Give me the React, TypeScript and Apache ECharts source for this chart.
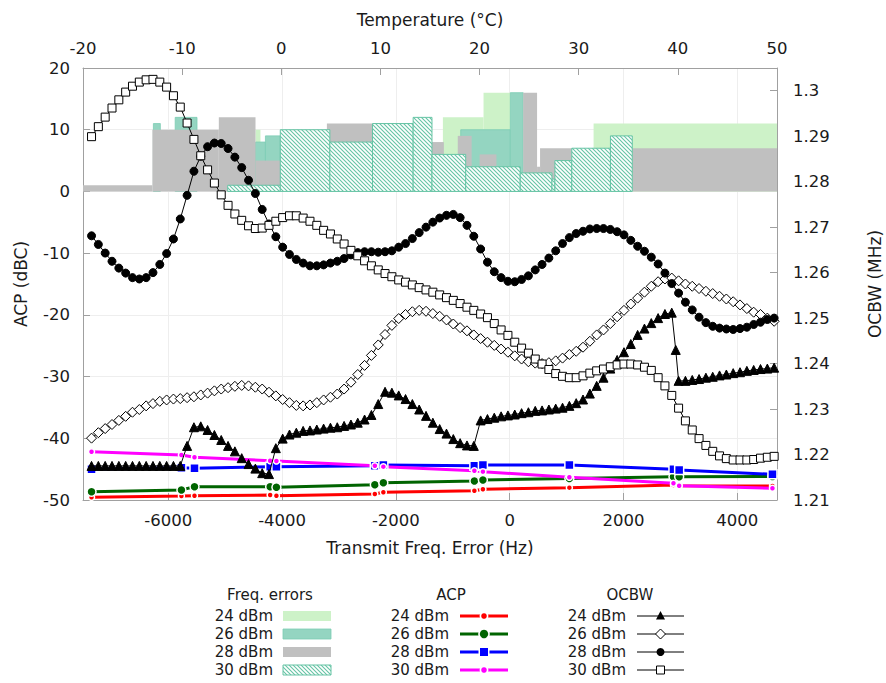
import React, { useEffect, useRef } from 'react';
import * as echarts from 'echarts';

// ---------------- data ----------------
const powerLabels = ['24 dBm', '26 dBm', '28 dBm', '30 dBm'];
const legendTitles = ['Freq. errors', 'ACP', 'OCBW'];

// Frequency-error histograms vs temperature: [tStart (°C), tEnd (°C), value]
const freqErr24 = [[-2.6, -2.1, 10], [16.3, 20.4, 12], [20.4, 23.1, 16], [31.5, 50, 11]];
const freqErr26 = [[-12.9, -12.2, 11], [-10.7, -8.5, 12], [-2.6, -1.6, 8], [-1.6, -0.1, 9], [18.1, 23.1, 10], [23.1, 24.4, 16]];
const freqErr28 = [[-20, -13, 1], [-13, -6.3, 10], [-6.3, -2.6, 12], [-2.6, -0.1, 5], [4.6, 9.2, 11], [15.2, 16.4, 8], [17.8, 19.2, 9], [20, 21.7, 6], [24.4, 25.8, 16], [25.8, 26.1, 4], [26.1, 29.3, 7], [35.4, 50, 7]];
const freqErr30 = [[-5.4, -0.1, 1], [-0.1, 4.9, 10], [4.9, 9.2, 8], [9.2, 13.3, 11], [13.3, 15.2, 12], [15.2, 18.6, 6], [18.6, 24.1, 4], [24.1, 27.3, 3], [27.3, 27.6, 2], [27.6, 29.3, 5], [29.3, 33.2, 7], [33.2, 35.4, 9]];

// ACP (dBc) vs transmit frequency error (Hz)
const acpFreq = [-7350, -5770, -5540, -4210, -4100, -2370, -2220, -620, -470, 1050, 2880, 2980, 4620];
const acp24 = [-49.56, -49.35, -49.3, -49.19, -49.3, -49.03, -48.75, -48.49, -48.27, -48.0, -47.57, -47.68, -47.73];
const acp26 = [-48.65, -48.38, -47.84, -47.84, -47.94, -47.52, -47.2, -46.92, -46.76, -46.52, -46.22, -46.22, -46.19];
const acp28 = [-45.02, -44.77, -44.86, -44.6, -44.6, -44.44, -44.33, -44.44, -44.33, -44.33, -45.02, -45.14, -45.83];
const acp30 = [-42.17, -42.71, -43.08, -43.63, -43.68, -44.44, -44.6, -45.25, -45.41, -46.32, -47.29, -47.68, -48.1];

// OCBW (MHz) vs transmit frequency error (Hz)
const freqGrid = [
  -7350, -7230, -7110, -6990, -6870, -6750, -6630, -6510, -6390, -6270,
  -6150, -6030, -5910, -5790, -5670, -5550, -5430, -5310, -5190, -5070,
  -4950, -4830, -4710, -4590, -4470, -4350, -4230, -4110, -3990, -3870,
  -3750, -3630, -3510, -3390, -3270, -3150, -3030, -2910, -2790, -2670,
  -2550, -2430, -2310, -2190, -2070, -1950, -1830, -1710, -1590, -1470,
  -1350, -1230, -1110, -990, -870, -750, -630, -510, -390, -270,
  -150, -30, 90, 210, 330, 450, 570, 690, 810, 930,
  1050, 1170, 1290, 1410, 1530, 1650, 1770, 1890, 2010, 2130,
  2250, 2370, 2490, 2610, 2730, 2850, 2970, 3090, 3210, 3330,
  3450, 3570, 3690, 3810, 3930, 4050, 4170, 4290, 4410, 4530,
  4650,
];
const ocbw24 = [
  1.2175, 1.2175, 1.2175, 1.2175, 1.2175, 1.2175, 1.2175, 1.2175, 1.2175, 1.2175,
  1.2175, 1.2175, 1.2175, 1.2175, 1.2219, 1.2260, 1.2262, 1.2254, 1.2243, 1.2232,
  1.2219, 1.2207, 1.2192, 1.2179, 1.2169, 1.2159, 1.2157, 1.2214, 1.2235, 1.2244,
  1.2248, 1.2252, 1.2253, 1.2255, 1.2257, 1.2259, 1.2260, 1.2263, 1.2266, 1.2270,
  1.2277, 1.2287, 1.2311, 1.2338, 1.2336, 1.2330, 1.2322, 1.2311, 1.2299, 1.2285,
  1.2270, 1.2256, 1.2246, 1.2234, 1.2225, 1.2220, 1.2219, 1.2275, 1.2278, 1.2281,
  1.2284, 1.2286, 1.2288, 1.2291, 1.2293, 1.2296, 1.2297, 1.2299, 1.2301, 1.2303,
  1.2307, 1.2313, 1.2321, 1.2334, 1.2351, 1.2369, 1.2389, 1.2408, 1.2425, 1.2443,
  1.2463, 1.2477, 1.2489, 1.2500, 1.2509, 1.2512, 1.2362, 1.2362, 1.2364, 1.2366,
  1.2369, 1.2371, 1.2374, 1.2376, 1.2379, 1.2381, 1.2384, 1.2386, 1.2388, 1.2389,
  1.2391,
];
const ocbw24Extra = [2920, 1.2430];
const ocbw26 = [
  1.2236, 1.2248, 1.2257, 1.2266, 1.2275, 1.2284, 1.2293, 1.2299, 1.2307, 1.2312,
  1.2317, 1.2320, 1.2322, 1.2323, 1.2325, 1.2327, 1.2331, 1.2335, 1.2340, 1.2344,
  1.2347, 1.2350, 1.2352, 1.2351, 1.2348, 1.2344, 1.2337, 1.2329, 1.2321, 1.2314,
  1.2308, 1.2307, 1.2309, 1.2314, 1.2320, 1.2326, 1.2333, 1.2344, 1.2359, 1.2376,
  1.2396, 1.2418, 1.2441, 1.2464, 1.2484, 1.2499, 1.2508, 1.2514, 1.2517, 1.2515,
  1.2510, 1.2504, 1.2496, 1.2487, 1.2479, 1.2472, 1.2463, 1.2455, 1.2447, 1.2440,
  1.2432, 1.2425, 1.2417, 1.2410, 1.2404, 1.2401, 1.2400, 1.2402, 1.2406, 1.2412,
  1.2420, 1.2427, 1.2436, 1.2449, 1.2463, 1.2474, 1.2488, 1.2503, 1.2517, 1.2531,
  1.2544, 1.2557, 1.2570, 1.2580, 1.2586, 1.2588, 1.2582, 1.2575, 1.2570, 1.2565,
  1.2559, 1.2554, 1.2548, 1.2542, 1.2536, 1.2529, 1.2521, 1.2513, 1.2508, 1.2500,
  1.2493,
];
const ocbw28 = [
  1.2681, 1.2662, 1.2643, 1.2625, 1.2610, 1.2599, 1.2589, 1.2586, 1.2589, 1.2600,
  1.2618, 1.2642, 1.2674, 1.2718, 1.2770, 1.2823, 1.2856, 1.2877, 1.2885, 1.2884,
  1.2873, 1.2854, 1.2831, 1.2803, 1.2774, 1.2739, 1.2707, 1.2679, 1.2656, 1.2640,
  1.2629, 1.2621, 1.2615, 1.2615, 1.2617, 1.2621, 1.2625, 1.2631, 1.2639, 1.2644,
  1.2646, 1.2646, 1.2645, 1.2646, 1.2648, 1.2656, 1.2664, 1.2675, 1.2688, 1.2700,
  1.2711, 1.2720, 1.2726, 1.2728, 1.2721, 1.2704, 1.2680, 1.2652, 1.2623, 1.2602,
  1.2589, 1.2581, 1.2580, 1.2585, 1.2593, 1.2606, 1.2618, 1.2632, 1.2648, 1.2664,
  1.2677, 1.2686, 1.2691, 1.2696, 1.2697, 1.2697, 1.2695, 1.2690, 1.2683, 1.2671,
  1.2658, 1.2647, 1.2634, 1.2619, 1.2599, 1.2576, 1.2555, 1.2535, 1.2518, 1.2502,
  1.2490, 1.2482, 1.2478, 1.2476, 1.2475, 1.2477, 1.2480, 1.2486, 1.2491, 1.2497,
  1.2500,
];
const ocbw30 = [
  1.2899, 1.2921, 1.2942, 1.2962, 1.2980, 1.2997, 1.3010, 1.3019, 1.3024, 1.3025,
  1.3019, 1.3008, 1.2989, 1.2964, 1.2929, 1.2893, 1.2857, 1.2826, 1.2797, 1.2771,
  1.2748, 1.2729, 1.2715, 1.2703, 1.2697, 1.2698, 1.2704, 1.2713, 1.2721, 1.2725,
  1.2725, 1.2720, 1.2713, 1.2704, 1.2693, 1.2685, 1.2674, 1.2663, 1.2649, 1.2637,
  1.2626, 1.2615, 1.2606, 1.2598, 1.2591, 1.2584, 1.2579, 1.2573, 1.2567, 1.2562,
  1.2557, 1.2551, 1.2545, 1.2539, 1.2532, 1.2524, 1.2517, 1.2509, 1.2501, 1.2488,
  1.2474, 1.2462, 1.2447, 1.2434, 1.2423, 1.2410, 1.2399, 1.2387, 1.2378, 1.2372,
  1.2369, 1.2369, 1.2373, 1.2379, 1.2384, 1.2388, 1.2393, 1.2397, 1.2399, 1.2399,
  1.2397, 1.2392, 1.2385, 1.2369, 1.2351, 1.2330, 1.2302, 1.2274, 1.2254, 1.2235,
  1.2220, 1.2207, 1.2197, 1.2191, 1.2188, 1.2188, 1.2188, 1.2189, 1.2192, 1.2194,
  1.2196,
];

// ---------------- styling ----------------
const FONT = '"DejaVu Sans", Verdana, sans-serif';
const TXT = '#1a1a1a';
const AXIS = '#a0a0a0';
const ACP_COLORS = ['#ff0000', '#006400', '#0000ff', '#ff00ff'];
const GREEN_LIGHT = '#cdf2c8';
const TEAL = '#94d5c1';
const GRAY = '#c0c0c0';
const HATCH = '#66c4a5';

function makeHatch() {
  const c = document.createElement('canvas');
  c.width = 4;
  c.height = 4;
  const ctx = c.getContext('2d')!;
  ctx.fillStyle = '#ffffff';
  ctx.fillRect(0, 0, 4, 4);
  ctx.strokeStyle = HATCH;
  ctx.lineWidth = 1.1;
  ctx.beginPath();
  ctx.moveTo(-1, -1); ctx.lineTo(5, 5);
  ctx.moveTo(-1, 3); ctx.lineTo(1, 5);
  ctx.moveTo(3, -1); ctx.lineTo(5, 1);
  ctx.stroke();
  return c;
}

function buildOption() {
  const hatchFill: any = { image: makeHatch(), repeat: 'repeat', imageWidth: 4, imageHeight: 4 };
  const barStyles: any[] = [
    { fill: GREEN_LIGHT },
    { fill: TEAL, stroke: '#7ccdb4', lineWidth: 0.8 },
    { fill: GRAY },
    { fill: hatchFill, stroke: HATCH, lineWidth: 1 },
  ];

  const barSeries = [freqErr24, freqErr26, freqErr28, freqErr30].map((d, k) => ({
    type: 'custom',
    xAxisIndex: 1,
    yAxisIndex: 0,
    z: 1,
    silent: true,
    data: d,
    encode: { x: [0, 1], y: 2 },
    renderItem: (params: any, api: any) => {
      const p0 = api.coord([api.value(0), api.value(2)]);
      const p1 = api.coord([api.value(1), 0]);
      return {
        type: 'rect',
        shape: { x: p0[0], y: p0[1], width: p1[0] - p0[0], height: p1[1] - p0[1] },
        style: { ...barStyles[k] },
      };
    },
  }));

  const acpSets = [acp24, acp26, acp28, acp30];
  const acpSymbols = ['circle', 'circle', 'rect', 'circle'];
  const acpSizes = [6, 9, 9, 6];
  const acpSeries = acpSets.map((vals, k) => ({
    type: 'line',
    xAxisIndex: 0,
    yAxisIndex: 0,
    z: 2,
    data: acpFreq.map((f, i) => [f, vals[i]]),
    symbol: acpSymbols[k],
    symbolSize: acpSizes[k],
    showAllSymbol: true,
    lineStyle: { color: ACP_COLORS[k], width: 3 },
    itemStyle: { color: ACP_COLORS[k], borderColor: '#ffffff', borderWidth: 1.5 },
  }));

  const ocbw24Data: any[] = freqGrid.map((f, i) => [f, ocbw24[i]]);
  ocbw24Data.splice(86, 0, ocbw24Extra);
  const ocbwData = [
    ocbw24Data,
    freqGrid.map((f, i) => [f, ocbw26[i]]),
    freqGrid.map((f, i) => [f, ocbw28[i]]),
    freqGrid.map((f, i) => [f, ocbw30[i]]),
  ];
  const ocbwSymbols = ['triangle', 'diamond', 'circle', 'rect'];
  const ocbwSizes = [9, 10, 8, 8];
  const ocbwFill = ['#000000', '#ffffff', '#000000', '#ffffff'];
  const ocbwSeries = ocbwData.map((d, k) => ({
    type: 'line',
    xAxisIndex: 0,
    yAxisIndex: 1,
    z: 3,
    data: d,
    symbol: ocbwSymbols[k],
    symbolSize: ocbwSizes[k],
    showAllSymbol: true,
    lineStyle: { color: '#000000', width: 1 },
    itemStyle: { color: ocbwFill[k], borderColor: '#000000', borderWidth: 1 },
  }));

  // legend (graphic)
  const text = (t: string, x: number, y: number, align: string) => ({
    type: 'text',
    x,
    y,
    style: {
      text: t,
      fill: TXT,
      font: `15px ${FONT}`,
      textAlign: align,
      textVerticalAlign: 'middle',
      align,
      verticalAlign: 'middle',
    },
  });
  const rowsY = [616, 634, 652, 670];
  const g: any[] = [];
  g.push(text(legendTitles[0], 270, 595, 'center'));
  g.push(text(legendTitles[1], 451, 595, 'center'));
  g.push(text(legendTitles[2], 630, 595, 'center'));
  rowsY.forEach((y, i) => {
    g.push(text(powerLabels[i], 273, y, 'right'));
    g.push({ type: 'rect', shape: { x: 283, y: y - 5, width: 48, height: 10 }, style: { ...barStyles[i] } });

    g.push(text(powerLabels[i], 449, y, 'right'));
    g.push({ type: 'line', shape: { x1: 460, y1: y, x2: 508, y2: y }, style: { stroke: ACP_COLORS[i], lineWidth: 3 } });
    if (i === 2) {
      g.push({ type: 'rect', shape: { x: 484 - 5.5, y: y - 5.5, width: 11, height: 11 }, style: { fill: '#ffffff' } });
      g.push({ type: 'rect', shape: { x: 484 - 4, y: y - 4, width: 8, height: 8 }, style: { fill: ACP_COLORS[i] } });
    } else {
      const r = i === 1 ? 4.2 : 2.8;
      g.push({ type: 'circle', shape: { cx: 484, cy: y, r: r + 1.6 }, style: { fill: '#ffffff' } });
      g.push({ type: 'circle', shape: { cx: 484, cy: y, r }, style: { fill: ACP_COLORS[i] } });
    }

    g.push(text(powerLabels[i], 626, y, 'right'));
    g.push({ type: 'line', shape: { x1: 637, y1: y, x2: 684, y2: y }, style: { stroke: '#000000', lineWidth: 1 } });
    const mx = 660.5;
    if (i === 0) {
      g.push({ type: 'polygon', shape: { points: [[mx, y - 5], [mx + 4.5, y + 3.5], [mx - 4.5, y + 3.5]] }, style: { fill: '#000000' } });
    } else if (i === 1) {
      g.push({ type: 'polygon', shape: { points: [[mx, y - 5], [mx + 5, y], [mx, y + 5], [mx - 5, y]] }, style: { fill: '#ffffff', stroke: '#000000', lineWidth: 1 } });
    } else if (i === 2) {
      g.push({ type: 'circle', shape: { cx: mx, cy: y, r: 4 }, style: { fill: '#000000' } });
    } else {
      g.push({ type: 'rect', shape: { x: mx - 4, y: y - 4, width: 8, height: 8 }, style: { fill: '#ffffff', stroke: '#000000', lineWidth: 1 } });
    }
  });

  const tickLabel = { color: TXT, fontSize: 16.5, fontFamily: FONT };
  const nameStyle = { color: TXT, fontSize: 17, fontFamily: FONT };
  const axisLine = { show: true, onZero: false, lineStyle: { color: AXIS, width: 1 } };
  const axisTick = { show: true, inside: true, length: 7, lineStyle: { color: AXIS } };
  const gridLine = { show: true, lineStyle: { color: '#eeeeee', width: 1 } };

  return {
    animation: false,
    backgroundColor: '#ffffff',
    textStyle: { fontFamily: FONT },
    grid: { left: 83, right: 109, top: 68, bottom: 183, containLabel: false, outerBoundsMode: 'none' },
    xAxis: [
      {
        type: 'value',
        position: 'bottom',
        min: -7500,
        max: 4700,
        name: 'Transmit Freq. Error (Hz)',
        nameLocation: 'middle',
        nameGap: 39,
        nameTextStyle: nameStyle,
        axisLine,
        axisTick,
        splitLine: gridLine,
        axisLabel: {
          ...tickLabel,
          margin: 12,
          formatter: (v: number) => (Math.abs(v % 2000) < 1e-6 ? String(v) : ''),
        },
      },
      {
        type: 'value',
        position: 'top',
        min: -20,
        max: 50,
        interval: 10,
        name: 'Temperature (°C)',
        nameLocation: 'middle',
        nameGap: 40,
        nameTextStyle: nameStyle,
        axisLine,
        axisTick,
        splitLine: { show: false },
        axisLabel: { ...tickLabel, margin: 11 },
      },
    ],
    yAxis: [
      {
        type: 'value',
        position: 'left',
        min: -50,
        max: 20,
        interval: 10,
        name: 'ACP (dBC)',
        nameLocation: 'middle',
        nameGap: 54,
        nameRotate: 90,
        nameTextStyle: nameStyle,
        axisLine,
        axisTick,
        splitLine: gridLine,
        axisLabel: { ...tickLabel, margin: 13 },
      },
      {
        type: 'value',
        position: 'right',
        min: 1.21,
        max: 1.305,
        interval: 0.01,
        name: 'OCBW (MHz)',
        nameLocation: 'middle',
        nameGap: 89,
        nameRotate: 90,
        nameTextStyle: nameStyle,
        axisLine,
        axisTick,
        splitLine: { show: false },
        axisLabel: {
          ...tickLabel,
          margin: 16,
          formatter: (v: number) => {
            const k = Math.round(v * 100);
            return Math.abs(v * 100 - k) < 1e-6 && v < 1.3001 ? String(+(k / 100).toFixed(2)) : '';
          },
        },
      },
    ],
    graphic: { elements: g },
    series: [...barSeries, ...acpSeries, ...ocbwSeries],
  };
}

export default function App() {
  const ref = useRef<HTMLDivElement>(null);
  useEffect(() => {
    if (!ref.current) return;
    const chart = echarts.init(ref.current, undefined, { renderer: 'svg' });
    chart.setOption(buildOption() as any);
    return () => chart.dispose();
  }, []);
  return (
    <div
      ref={ref}
      style={{ position: 'fixed', left: 0, top: 0, width: 886, height: 683, background: '#ffffff' }}
    />
  );
}
